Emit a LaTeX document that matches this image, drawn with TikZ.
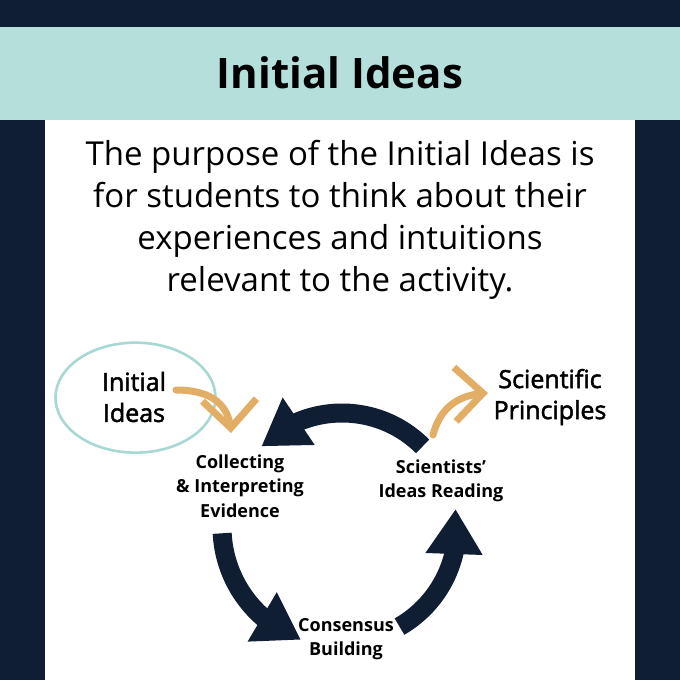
\documentclass[tikz,border=0pt]{standalone}
\usepackage{fontspec}
\setmainfont{Open Sans}
\newfontfamily\semifont{Open Sans}[FakeBold=2]
\usetikzlibrary{arrows.meta,bending,positioning}
\definecolor{navy}{HTML}{0F1E33}
\definecolor{headteal}{HTML}{B5DFDB}
\definecolor{ringteal}{HTML}{A8D8D2}
\definecolor{sand}{HTML}{E2AE66}

\begin{document}
\begin{tikzpicture}[x=1pt, y=1pt,
	stage/.style={font=\bfseries\fontsize{18}{24.5}\selectfont, align=center},
	side/.style={font=\semifont\fontsize{25}{31}\selectfont, align=center},
	cyc/.style={draw=navy, line width=19pt, -{Triangle[width=54pt, length=45pt, flex]}},
	hint/.style={draw=sand, line width=7pt, line cap=round,
		-{Straight Barb[length=28pt, width=54pt, flex]}},
	ring/.style={draw=ringteal, line width=2.6pt}
]
	% Frame and header band
	\useasboundingbox (0,0) rectangle (680,-680);
	\fill[navy] (0,0) rectangle (680,-680);
	\fill[headteal] (0,-27) rectangle (680,-120);
	\fill[white] (45,-120) rectangle (635,-680);

	\node[font=\bfseries\fontsize{42}{50}\selectfont] (title) at (340,-73) {Initial Ideas};

	\node[font=\fontsize{33}{42}\selectfont, align=center] (blurb) at (340,-220)
		{The purpose of the Initial Ideas is\\ for students to think about their\\
		 experiences and intuitions\\ relevant to the activity.};

	% Cycle labels
	\node[stage] (collect) at (240,-486) {Collecting\\ \& Interpreting\\ Evidence};
	\node[stage] (reading) at (441,-481) {Scientists’\\ Ideas Reading};
	\node[stage] (consensus) at (346,-639) {Consensus\\ Building};

	% Cycle arrows
	\coordinate (hub) at (342,-527);
	\draw[cyc] (hub) ++(45:114) arc[start angle=45, end angle=135, radius=114];
	\draw[cyc] (hub) ++(183:120) arc[start angle=183, end angle=250, radius=120];
	\draw[cyc] (hub) ++(300:115) arc[start angle=300, end angle=369, radius=115];

	% Entry and exit
	\node[side] (initial) at (134,-397) {Initial\\ Ideas};
	\draw[ring] ([yshift=4pt]initial.center) ++(112:76 and 50)
		arc[start angle=112, end angle=482, x radius=80, y radius=55];
	\node[side] (principles) at (550,-397) {Scientific\\ Principles};

	\coordinate (inA) at (176,-390);
	\coordinate (inB) at (231,-433);
	\draw[hint] (inA) .. controls (212,-390) and (230,-405) .. (inB);
	\coordinate (outA) at (433,-435);
	\coordinate (outB) at (488,-393);
	\draw[hint] (outA) .. controls (440,-408) and (458,-394) .. (outB);
\end{tikzpicture}
\end{document}
